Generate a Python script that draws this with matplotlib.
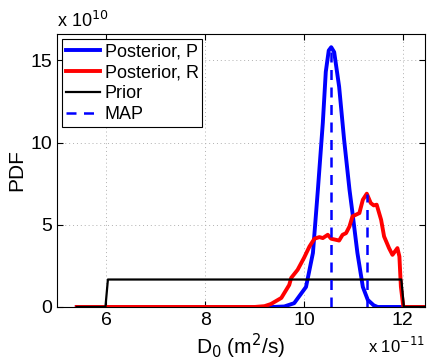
import matplotlib
matplotlib.use("Agg")
import matplotlib.pyplot as plt
import numpy as np

plt.rcParams['font.family'] = ['Liberation Sans', 'DejaVu Sans']

# x in units of 1e-11 m^2/s, y in units of 1e10
post_p_x = [5.40, 9.37, 9.60, 9.80, 10.04, 10.18, 10.28, 10.38, 10.44, 10.50, 10.55, 10.61,
            10.71, 10.81, 10.92, 10.98, 11.08, 11.19, 11.29, 11.41, 11.49, 12.00, 12.45]
post_p_y = [0.0, 0.0, 0.03, 0.23, 1.22, 3.29, 7.13, 11.2, 14.3, 15.6, 15.8, 15.5,
            13.4, 10.2, 7.13, 5.73, 3.29, 1.22, 0.43, 0.10, 0.0, 0.0, 0.0]

post_r_x = [5.40, 9.00, 9.20, 9.33, 9.54, 9.70, 9.74, 9.87, 10.00, 10.11, 10.21, 10.31,
            10.38, 10.48, 10.55, 10.71, 10.78, 10.85, 10.92, 10.98, 11.05, 11.12,
            11.19, 11.27, 11.35, 11.41, 11.47, 11.56, 11.62, 11.72, 11.79, 11.89,
            11.93, 11.96, 12.01, 12.45]
post_r_y = [0.0, 0.0, 0.05, 0.18, 0.55, 1.34, 1.77, 2.26, 2.99, 3.68, 4.15, 4.25,
            4.19, 4.39, 4.15, 4.04, 4.39, 4.49, 4.90, 5.51, 5.61, 5.71,
            6.52, 6.89, 6.32, 6.18, 6.22, 5.30, 4.29, 3.58, 3.17, 3.58,
            3.07, 1.24, 0.0, 0.0]

prior_x = [5.40, 5.98, 6.03, 11.97, 12.02, 12.45]
prior_y = [0.0, 0.0, 1.67, 1.67, 0.0, 0.0]

map_x = [10.55, 11.27]
map_y = [15.8, 6.89]

fig = plt.figure(figsize=(4.32, 3.62), dpi=100)
ax = fig.add_axes([0.132, 0.152, 0.852, 0.754])

ax.plot(post_p_x, post_p_y, color='#0000ff', lw=2.8, label='Posterior, P',
        solid_joinstyle='round')
ax.plot(post_r_x, post_r_y, color='#ff0000', lw=2.8, label='Posterior, R',
        solid_joinstyle='round')
ax.plot(prior_x, prior_y, color='black', lw=1.6, label='Prior')
for i, (mx, my) in enumerate(zip(map_x, map_y)):
    ax.plot([mx, mx], [0, my], color='#0000ff', lw=1.8, ls=(0, (4, 3)),
            label='MAP' if i == 0 else None)

ax.set_xlim(5.0, 12.45)
ax.set_ylim(0, 16.6)
ax.set_xticks([6, 8, 10, 12])
ax.set_yticks([0, 5, 10, 15])
ax.tick_params(direction='in', top=True, right=True, labelsize=14, length=4)
ax.grid(True, ls=(0, (1, 3)), color='#b0b0b0', lw=0.7)
for s in ax.spines.values():
    s.set_linewidth(0.8)

ax.set_xlabel('D$_0$ (m$^2$/s)', fontsize=15, labelpad=2)
ax.set_ylabel('PDF', fontsize=15, labelpad=3)

ax.text(0.0, 1.01, r'x 10$^{10}$', transform=ax.transAxes, fontsize=13,
        ha='left', va='bottom')
ax.text(1.0, -0.105, r'x 10$^{-11}$', transform=ax.transAxes, fontsize=12,
        ha='right', va='top')

leg = ax.legend(loc='upper left', fontsize=13, handlelength=1.9, handletextpad=0.25,
                borderpad=0.2, labelspacing=0.22, fancybox=False, edgecolor='black',
                framealpha=1, borderaxespad=0.3)
leg.get_frame().set_linewidth(0.8)

fig.savefig('out.png', dpi=100)
